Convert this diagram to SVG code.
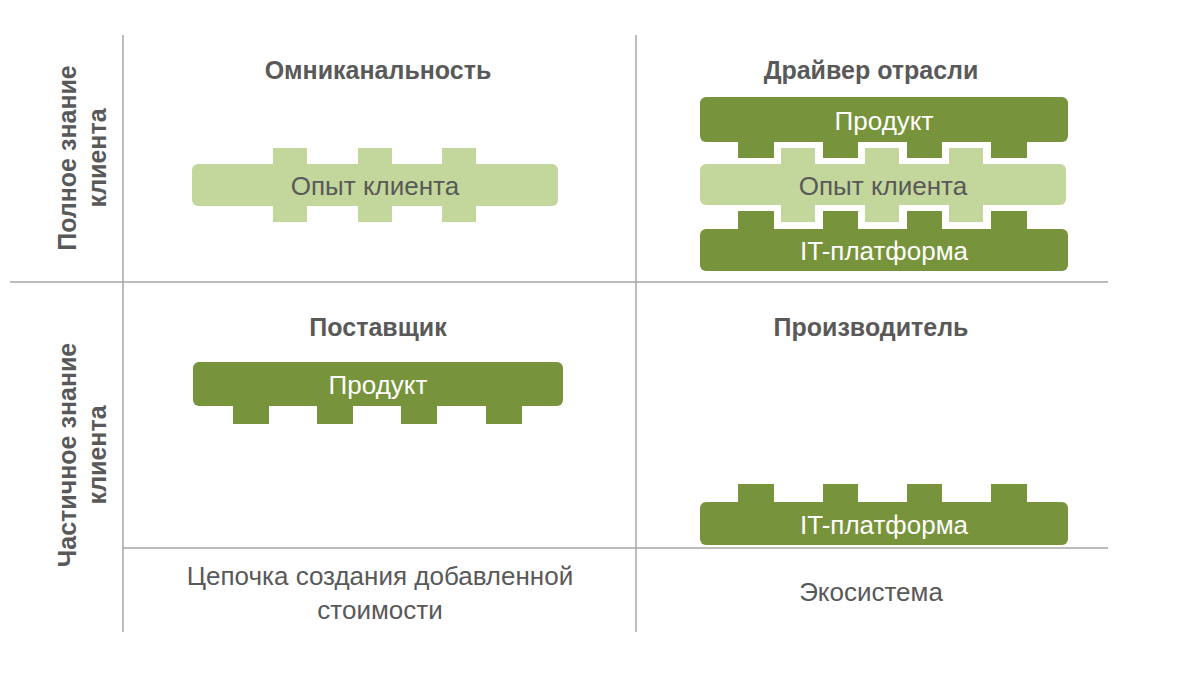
<svg xmlns="http://www.w3.org/2000/svg" width="1200" height="675" viewBox="0 0 1200 675">
<style>
.d{fill:#77933c}.l{fill:#c3d69b}
.t{font-family:"Liberation Sans",Arial,sans-serif;font-size:26px;text-anchor:middle}
.h{font-family:"Liberation Sans",Arial,sans-serif;font-size:25px;font-weight:bold;fill:#595959;text-anchor:middle}
.g{stroke:#a6a6a6;stroke-width:1.5}
</style>
<rect width="1200" height="675" fill="#fff"/>
<g id="grid">
<line class="g" x1="123" y1="35" x2="123" y2="632"/>
<line class="g" x1="636" y1="35" x2="636" y2="632"/>
<line class="g" x1="10" y1="282" x2="1108" y2="282"/>
<line class="g" x1="123" y1="548" x2="1108" y2="548"/>
</g>
<g id="labels">
<text class="h" transform="translate(82,158) rotate(-90)" dy="-6">Полное знание</text>
<text class="h" transform="translate(112,158) rotate(-90)" dy="-6">клиента</text>
<text class="h" transform="translate(82,455) rotate(-90)" dy="-6">Частичное знание</text>
<text class="h" transform="translate(112,455) rotate(-90)" dy="-6">клиента</text>
<text class="h" x="378" y="79">Омниканальность</text>
<text class="h" x="871" y="79">Драйвер отрасли</text>
<text class="h" x="378" y="336">Поставщик</text>
<text class="h" x="871" y="336">Производитель</text>
<text class="t" x="380" y="585" fill="#595959">Цепочка создания добавленной</text>
<text class="t" x="380" y="619" fill="#595959">стоимости</text>
<text class="t" x="871" y="601" fill="#595959">Экосистема</text>
</g>
<g id="omni">
<rect class="l" x="273" y="148" width="34" height="74"/><rect class="l" x="358" y="148" width="34" height="74"/><rect class="l" x="442" y="148" width="34" height="74"/>
<rect class="l" x="192" y="164" width="366" height="42" rx="6"/>
<text class="t" x="375" y="195" fill="#595959">Опыт клиента</text>
</g>
<g id="driver">
<rect class="d" x="738" y="130" width="36" height="28"/><rect class="d" x="823" y="130" width="35" height="28"/><rect class="d" x="907" y="130" width="35" height="28"/><rect class="d" x="991" y="130" width="36" height="28"/>
<rect class="d" x="700" y="97" width="368" height="45" rx="6"/>
<text class="t" x="884" y="130" fill="#fff">Продукт</text>
<rect class="d" x="738" y="211" width="36" height="28"/><rect class="d" x="823" y="211" width="35" height="28"/><rect class="d" x="907" y="211" width="35" height="28"/><rect class="d" x="991" y="211" width="36" height="28"/>
<rect class="d" x="700" y="229" width="368" height="42" rx="6"/>
<text class="t" x="884" y="260" fill="#fff">IT-платформа</text>
<rect class="l" x="781" y="148" width="34" height="74"/><rect class="l" x="865" y="148" width="34" height="74"/><rect class="l" x="949" y="148" width="34" height="74"/>
<rect class="l" x="700" y="164" width="366" height="41" rx="6"/>
<text class="t" x="883" y="195" fill="#595959">Опыт клиента</text>
</g>
<g id="supplier">
<rect class="d" x="233" y="395" width="36" height="29"/><rect class="d" x="317" y="395" width="36" height="29"/><rect class="d" x="401" y="395" width="36" height="29"/><rect class="d" x="486" y="395" width="36" height="29"/>
<rect class="d" x="193" y="362" width="370" height="44" rx="6"/>
<text class="t" x="378" y="394" fill="#fff">Продукт</text>
</g>
<g id="producer">
<rect class="d" x="738" y="484" width="36" height="28"/><rect class="d" x="823" y="484" width="35" height="28"/><rect class="d" x="907" y="484" width="35" height="28"/><rect class="d" x="991" y="484" width="36" height="28"/>
<rect class="d" x="700" y="502" width="368" height="43" rx="6"/>
<text class="t" x="884" y="534" fill="#fff">IT-платформа</text>
</g>
<g id="connectors"/>
</svg>
